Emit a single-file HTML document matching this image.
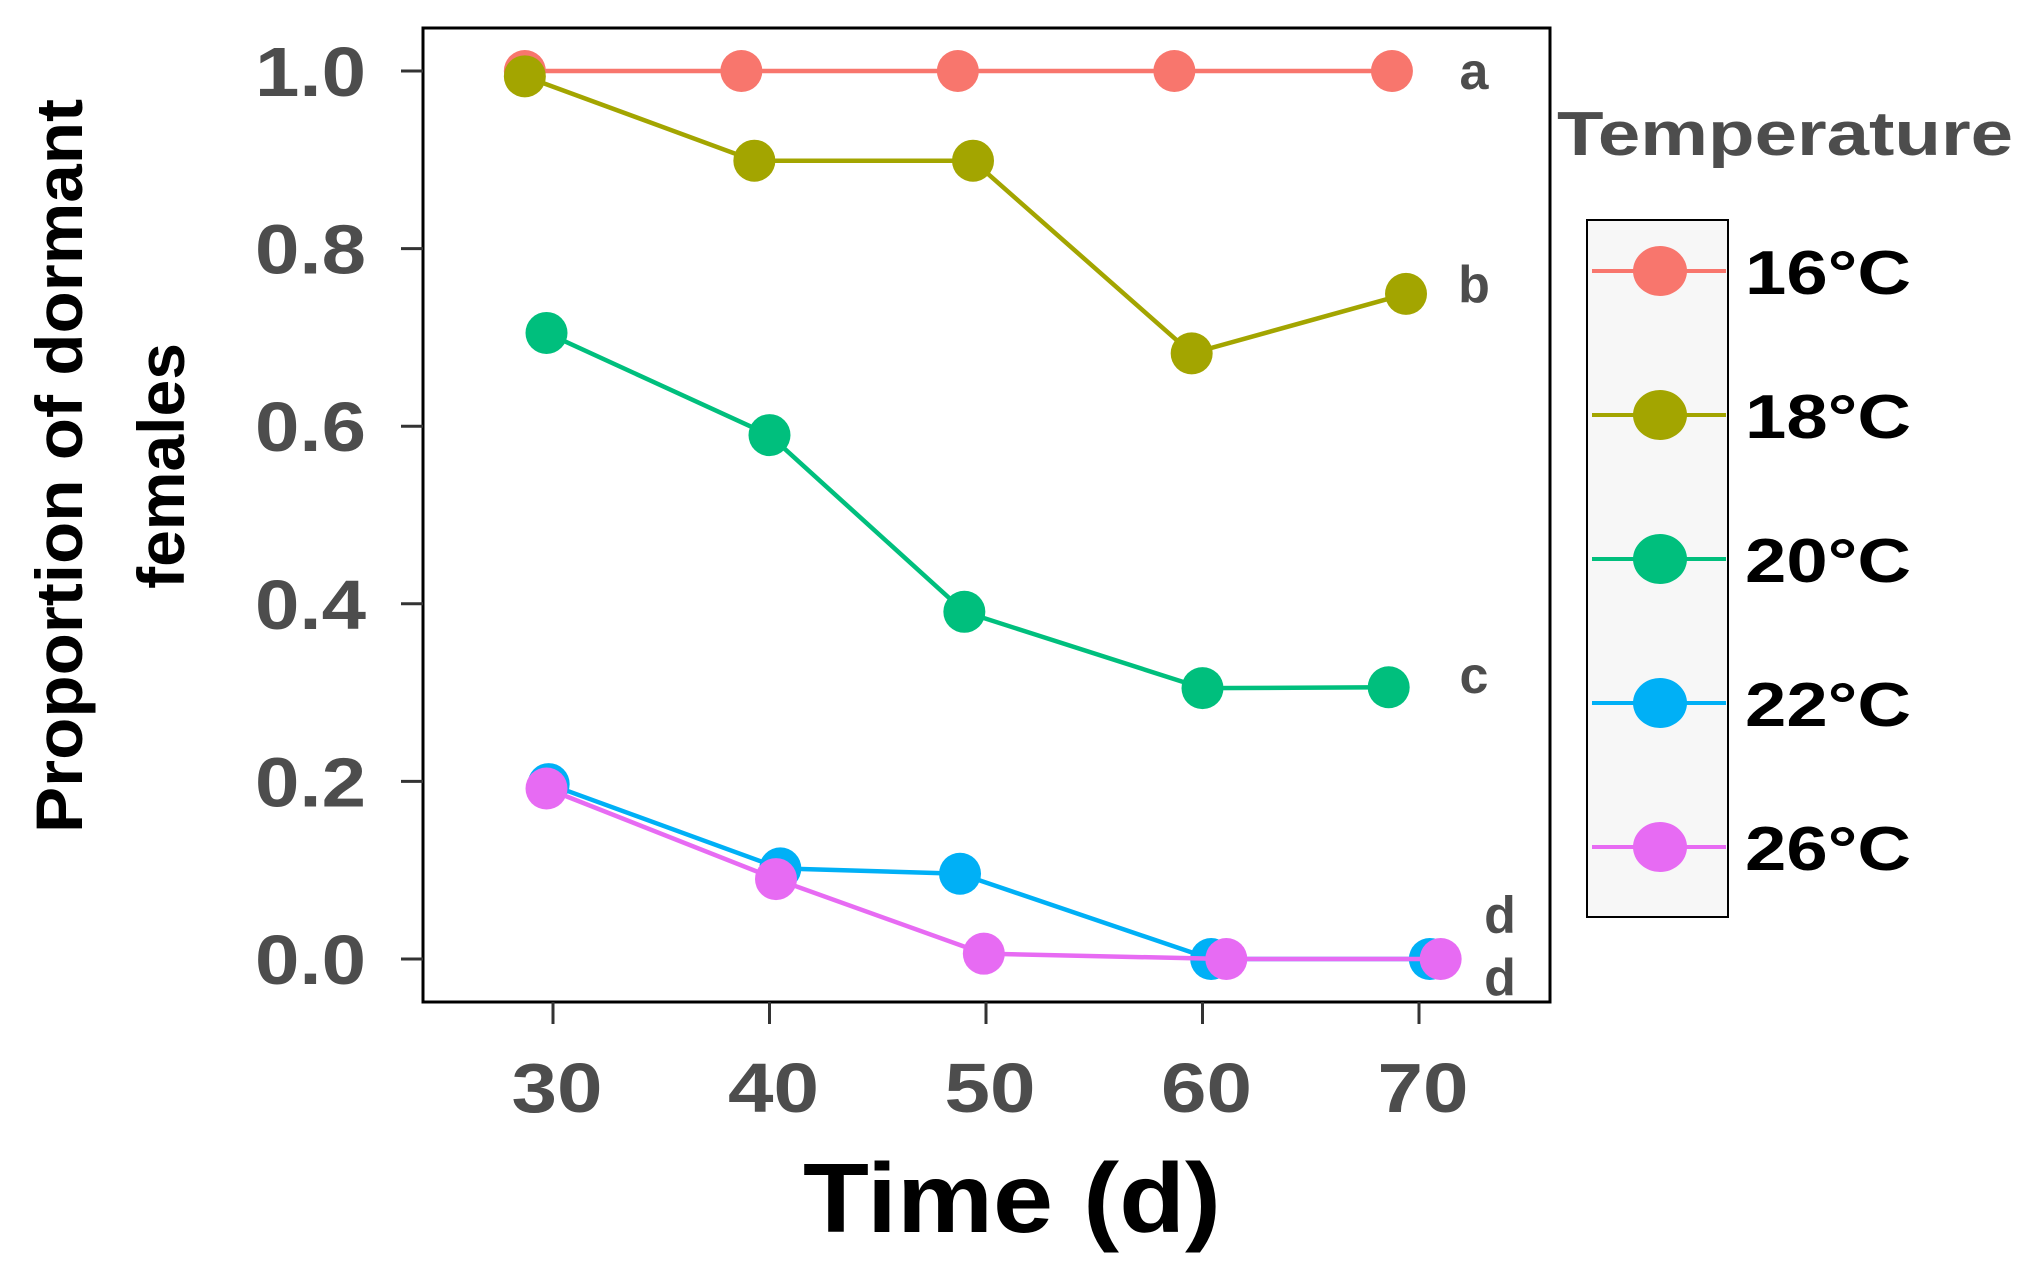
<!DOCTYPE html>
<html><head><meta charset="utf-8"><style>
html,body{margin:0;padding:0;background:#fff;}
svg{display:block;font-family:"Liberation Sans",Arial,sans-serif;font-weight:bold;}
</style></head><body>
<svg id="chart" width="2030" height="1282" viewBox="0 0 2030 1282" xmlns="http://www.w3.org/2000/svg">
<rect x="423" y="28" width="1127" height="974" fill="#fff" stroke="#000" stroke-width="3"/>
<g id="yaxis"></g>
<g id="xaxis"></g>
<g id="series"></g>
<g id="letters"></g>
<text x="1012" y="1232" font-size="98" text-anchor="middle" fill="#000" textLength="418" lengthAdjust="spacingAndGlyphs">Time (d)</text>
<g transform="rotate(-90)">
<text x="-466" y="82" font-size="66" text-anchor="middle" fill="#000" textLength="734" lengthAdjust="spacingAndGlyphs">Proportion of dormant</text>
<text x="-466" y="184" font-size="66" text-anchor="middle" fill="#000">females</text>
</g>
<text x="1557" y="155" font-size="62" fill="#4d4d4d" textLength="456" lengthAdjust="spacingAndGlyphs">Temperature</text>
<rect x="1587" y="220" width="141" height="697" fill="#f7f7f7" stroke="#000" stroke-width="2"/>
<g id="legend"></g>
</svg>
<script>
const xVals = [30, 40, 50, 60, 70];
const xTickLabels = ["30", "40", "50", "60", "70"];
const yTicks = [0, 0.2, 0.4, 0.6, 0.8, 1.0];
const yTickLabels = ["0.0", "0.2", "0.4", "0.6", "0.8", "1.0"];
const seriesNames = ["16°C", "18°C", "20°C", "22°C", "26°C"];
const seriesColors = ["#F8766D", "#A3A500", "#00BF7D", "#00B0F6", "#E76BF3"];
const xJit16 = [28.7, 38.7, 48.7, 58.7, 68.75];
const y16 = [1.0, 1.0, 1.0, 1.0, 1.0];
const xJit18 = [28.7, 39.3, 49.4, 59.5, 69.4];
const y18 = [0.994, 0.899, 0.899, 0.682, 0.749];
const xJit20 = [29.7, 40.0, 49.0, 60.0, 68.6];
const y20 = [0.705, 0.590, 0.391, 0.305, 0.306];
const xJit22 = [29.8, 40.5, 48.8, 60.4, 70.5];
const y22 = [0.197, 0.102, 0.096, 0, 0];
const xJit26 = [29.7, 40.3, 49.9, 61.1, 71.0];
const y26 = [0.192, 0.090, 0.006, 0, 0];
const groupLetters = ["a", "b", "c", "d", "d"];
const letterY = [1.0, 0.76, 0.32, 0.05, -0.02];

const NS = "http://www.w3.org/2000/svg";
const xs = v => 553 + (v - 30) * 21.65;
const ys = v => 959 - v * 888;
function mk(tag, attrs, parent) { const e = document.createElementNS(NS, tag); for (const k in attrs) e.setAttribute(k, attrs[k]); parent.appendChild(e); return e; }

const ya = document.getElementById("yaxis");
yTicks.forEach((t, i) => {
  const l = mk("line", {x1: 401, x2: 423, y1: ys(t), y2: ys(t), stroke: "#333", "stroke-width": 3}, ya);
  
  
  const tx = mk("text", {x: 366, y: ys(t) + 25, "font-size": 70, "text-anchor": "end", fill: "#4d4d4d", textLength: 111, lengthAdjust: "spacingAndGlyphs"}, ya);
  tx.textContent = yTickLabels[i];
  
  
});
const xa = document.getElementById("xaxis");
xVals.forEach((t, i) => {
  const l = mk("line", {x1: xs(t), x2: xs(t), y1: 1002, y2: 1024, stroke: "#333", "stroke-width": 3}, xa);
  
  
  const tx = mk("text", {x: xs(t) + 4, y: 1112, "font-size": 70, "text-anchor": "middle", fill: "#4d4d4d", textLength: 91, lengthAdjust: "spacingAndGlyphs"}, xa);
  tx.textContent = xTickLabels[i];
  
  
});

const allX = [xJit16, xJit18, xJit20, xJit22, xJit26];
const allY = [y16, y18, y20, y22, y26];
const sg = document.getElementById("series");
allX.forEach((xa2, s) => {
  const g = mk("g", {}, sg);
  
  
  const pts = xa2.map((x, i) => xs(x) + "," + ys(allY[s][i])).join(" ");
  const pl = mk("polyline", {points: pts, fill: "none", stroke: seriesColors[s], "stroke-width": 4.5}, g);
  
  
  xa2.forEach((x, i) => {
    const c = mk("circle", {cx: xs(x), cy: ys(allY[s][i]), r: 21, fill: seriesColors[s]}, g);
    
    
  });
});

const lg = document.getElementById("letters");
groupLetters.forEach((t, i) => {
  const tx = mk("text", {x: i >= 3 ? 1500 : 1474, y: ys(letterY[i]) + 18, "font-size": 52, "text-anchor": "middle", fill: "#4d4d4d"}, lg);
  tx.textContent = t;
  
  
});

const leg = document.getElementById("legend");
seriesNames.forEach((n, i) => {
  const y = 271 + i * 144;
  const g = mk("g", {}, leg);
  
  
  mk("line", {x1: 1592, x2: 1726, y1: y, y2: y, stroke: seriesColors[i], "stroke-width": 4}, g);
  mk("ellipse", {cx: 1660, cy: y, rx: 27, ry: 25, fill: seriesColors[i]}, g);
  const tx = mk("text", {x: 1745, y: y + 23, "font-size": 62, fill: "#000", textLength: 166, lengthAdjust: "spacingAndGlyphs"}, g);
  tx.textContent = n;
});
</script>
</body></html>
